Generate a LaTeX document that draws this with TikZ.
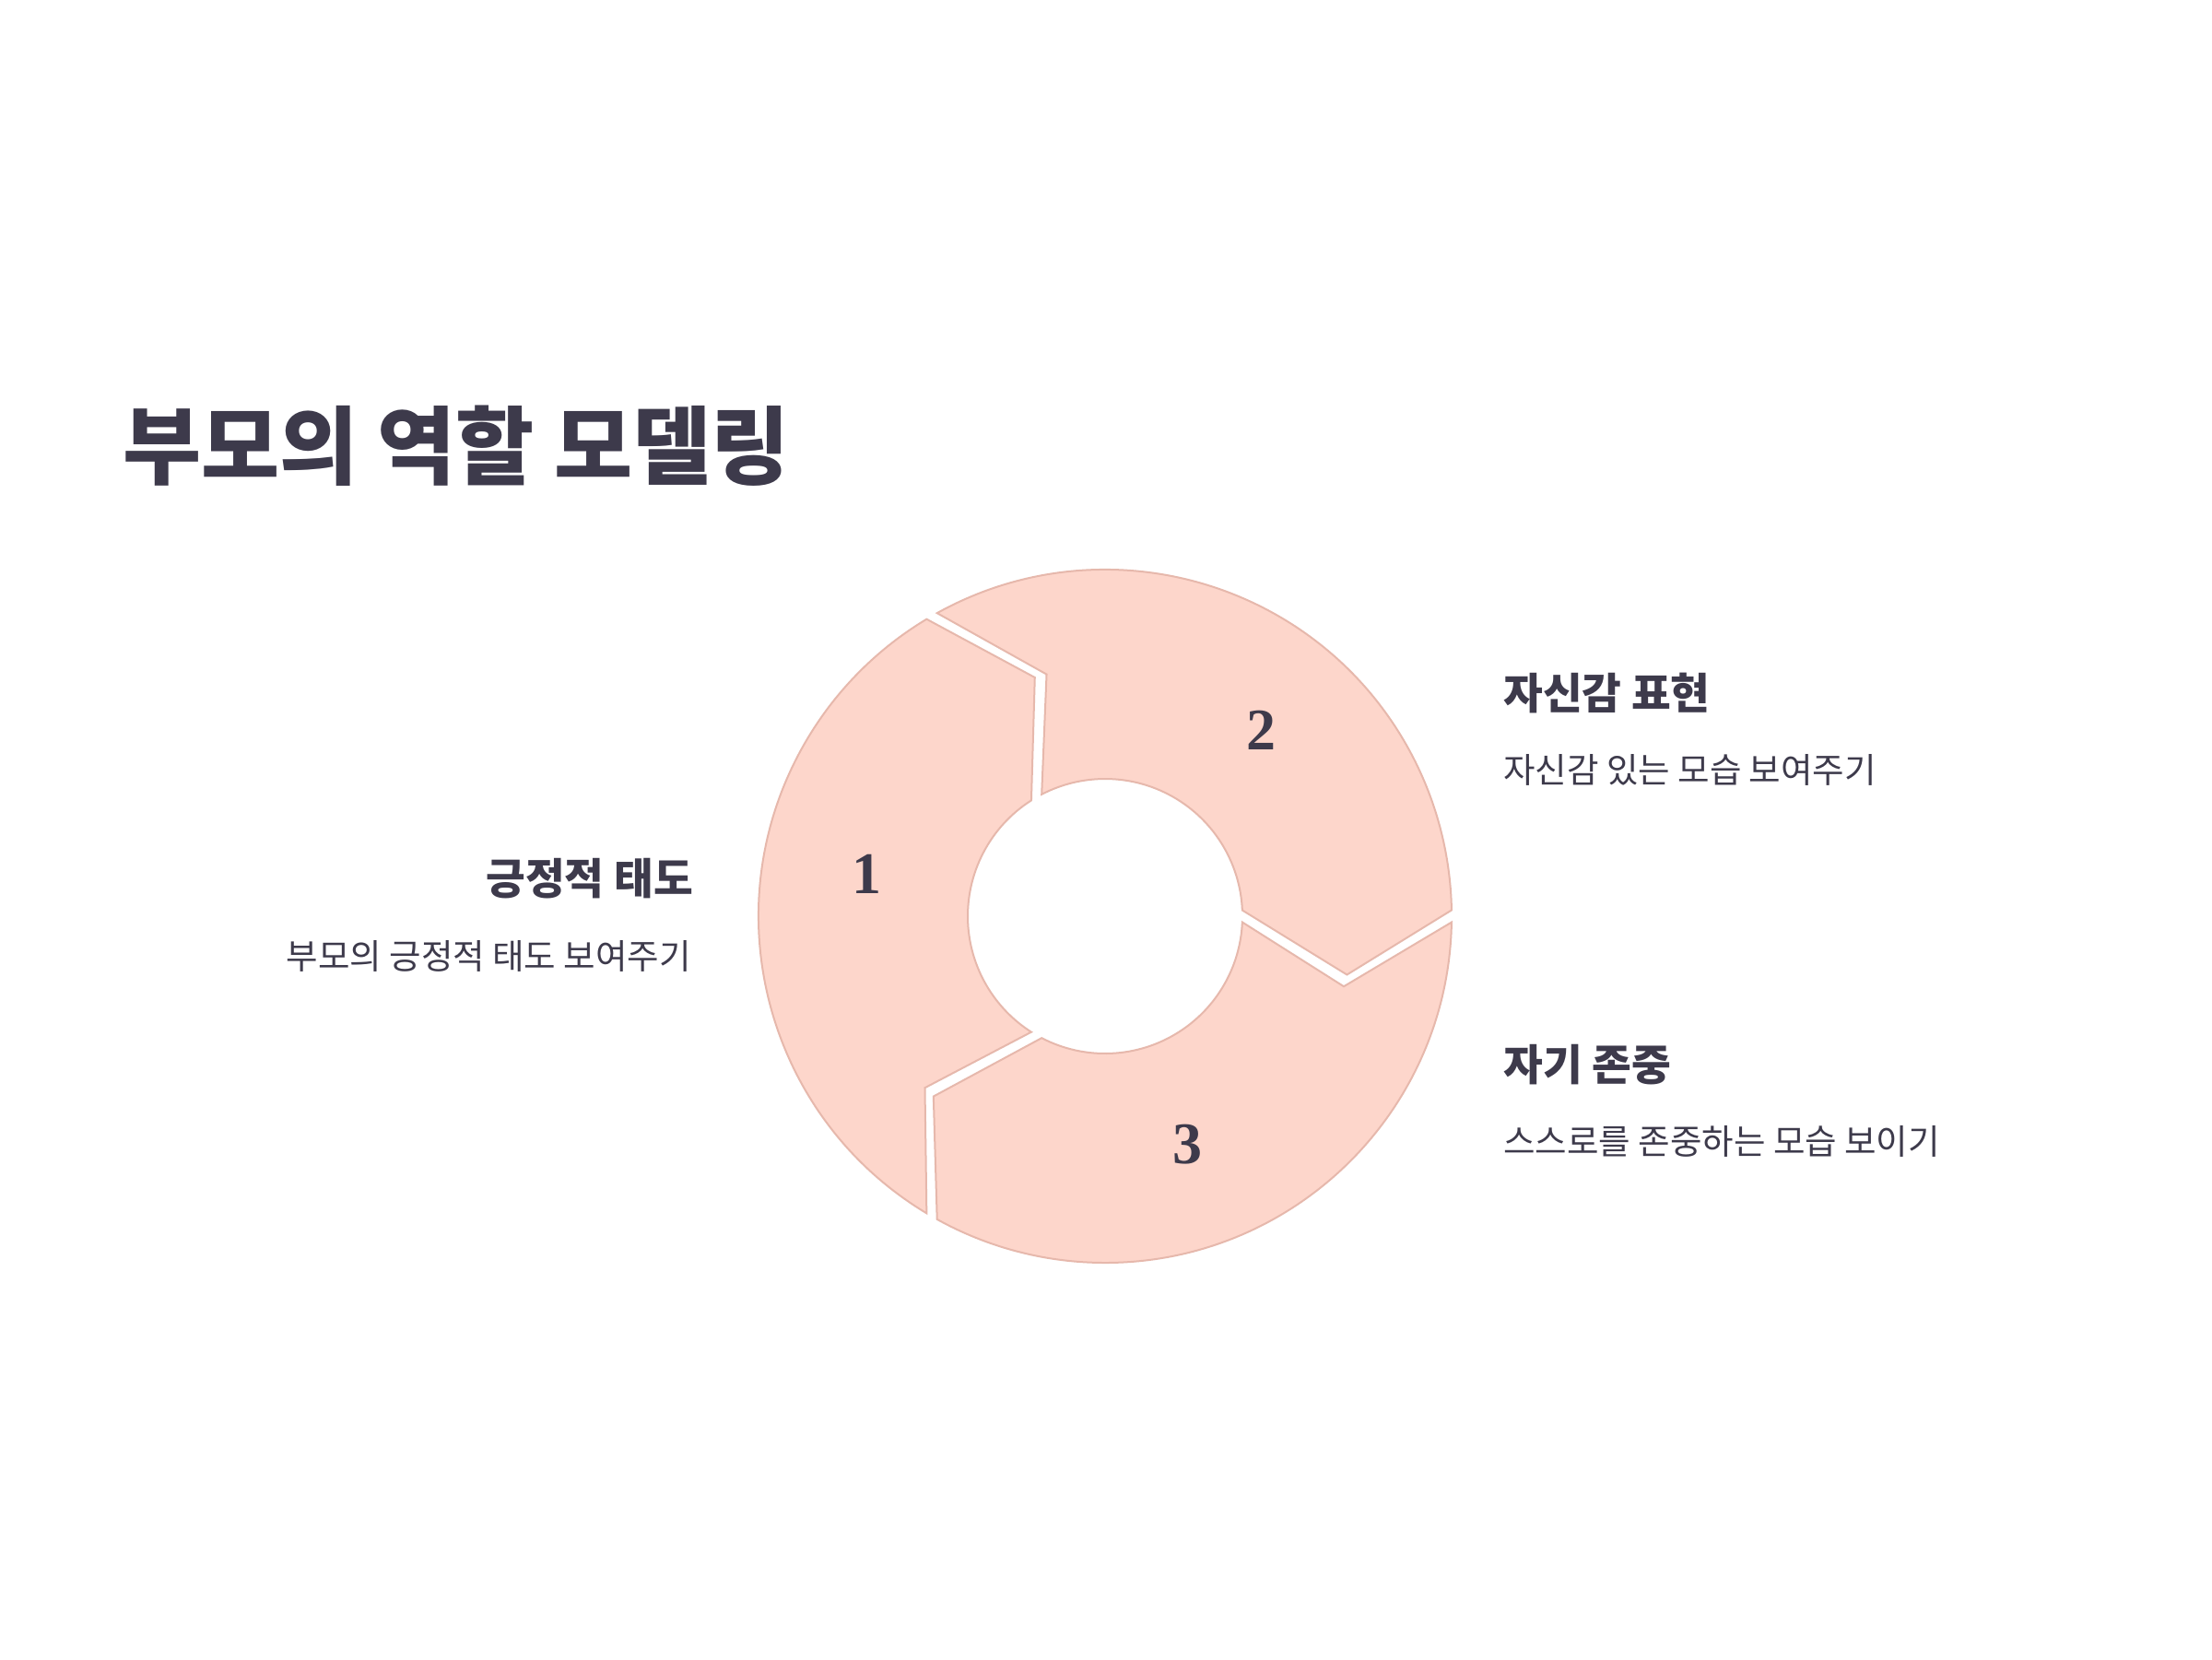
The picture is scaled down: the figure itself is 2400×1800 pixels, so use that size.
\documentclass[tikz,border=0pt]{standalone}
\usepackage{fontspec}
\newfontfamily\kr{Noto Sans CJK KR}
\newfontfamily\numfont{Liberation Serif}
\definecolor{ink}{RGB}{61,58,75}
\definecolor{segfill}{RGB}{253,214,203}
\definecolor{segline}{RGB}{230,184,172}
\tikzset{
  seg/.style={fill=segfill, draw=segline, line width=2pt, line join=miter},
  titletext/.style={inner sep=0pt, text=ink, font=\kr\bfseries\fontsize{92.5}{110}\selectfont},
  headtext/.style={inner sep=0pt, text=ink, font=\kr\bfseries\fontsize{46.5}{55}\selectfont},
  bodytext/.style={inner sep=0pt, text=ink, font=\kr\fontsize{37.5}{45}\selectfont},
  numtext/.style={inner sep=0pt, text=ink, font=\numfont\bfseries\fontsize{64}{70}\selectfont}
}
\begin{document}
\begin{tikzpicture}[x=1pt,y=1pt]
\useasboundingbox[fill=white] (0,0) rectangle (2400,-1800);

\node[titletext, anchor=west] (title) at (133,-484) {부모의 역할 모델링};

\begin{scope}[shift={(1199,-994)}]
  \path[seg] (239:376) arc[start angle=239, end angle=121, radius=376]
     -- (106.4:270) -- (122.5:149) arc[start angle=122.5, end angle=237.5, radius=149]
     -- (223.6:270) -- cycle;
  \path[seg] (119:376) arc[start angle=119, end angle=1, radius=376]
     -- (-13.6:270) -- (2.5:149) arc[start angle=2.5, end angle=117.5, radius=149]
     -- (103.6:270) -- cycle;
  \path[seg] (-1:376) arc[start angle=-1, end angle=-119, radius=376]
     -- (-133.6:270) -- (-117.5:149) arc[start angle=-117.5, end angle=-2.5, radius=149]
     -- (-16.4:270) -- cycle;
  \node[numtext] (n1) at (170:263) {1};
  \node[numtext] (n2) at (50:263) {2};
  \node[numtext] (n3) at (-70:263) {3};
\end{scope}

\node[headtext, anchor=east] (h1) at (752,-953.5) {긍정적 태도};
\node[bodytext, anchor=east] (b1) at (750,-1037.5) {부모의 긍정적 태도 보여주기};
\node[headtext, anchor=west] (h2) at (1631,-752) {자신감 표현};
\node[bodytext, anchor=west] (b2) at (1631,-835.5) {자신감 있는 모습 보여주기};
\node[headtext, anchor=west] (h3) at (1631,-1155) {자기 존중};
\node[bodytext, anchor=west] (b3) at (1631,-1238) {스스로를 존중하는 모습 보이기};
\end{tikzpicture}
\end{document}
